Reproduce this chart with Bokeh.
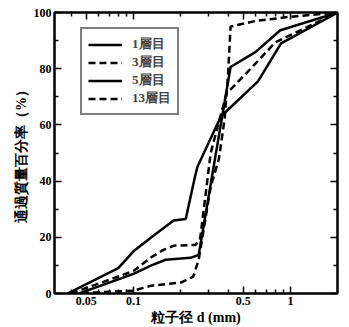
from bokeh.plotting import figure
from bokeh.models import (LogAxis, LinearAxis, FixedTicker, Legend, LegendItem,
                          Range1d, CustomJSTickFormatter)
from bokeh.embed import file_html
from bokeh.resources import INLINE

# ---- data ----
d_1 = [0.038, 0.08, 0.1, 0.13, 0.18, 0.215, 0.245, 0.255, 0.36, 0.62, 0.87, 2.0]
p_1 = [0, 9, 15, 20, 26, 26.5, 41, 45, 63, 75.5, 89, 100]

d_3 = [0.04, 0.1, 0.128, 0.155, 0.18, 0.248, 0.265, 0.31, 0.39, 0.57, 0.8, 2.0]
p_3 = [0, 8, 12.7, 15.5, 17, 17.3, 19, 50, 71, 80.6, 89.4, 100]

d_5 = [0.045, 0.1, 0.13, 0.16, 0.23, 0.26, 0.415, 0.6, 0.86, 2.0]
p_5 = [0, 7, 10, 12, 12.7, 13.7, 80.6, 86, 93.7, 100]

d_13 = [0.04, 0.1, 0.13, 0.2, 0.24, 0.26, 0.31, 0.35, 0.38, 0.4, 0.415, 0.6, 1.0, 2.0]
p_13 = [0, 1, 2.8, 3.9, 6, 12, 38, 48, 62, 78, 95, 97, 98.5, 100]

labels = ["1層目", "3層目", "5層目", "13層目"]
x_major = [0.05, 0.1, 0.5, 1]
x_minor = [0.04, 0.06, 0.07, 0.08, 0.09, 0.2, 0.3, 0.4, 0.6, 0.7, 0.8, 0.9]
y_major = [0, 20, 40, 60, 80, 100]
y_minor = [10, 30, 50, 70, 90]

SERIF = "Liberation Serif"

p = figure(width=349, height=327, x_axis_type="log",
           x_range=Range1d(0.0314, 1.99), y_range=Range1d(0, 100),
           output_backend="svg", toolbar_location=None,
           min_border_left=54, min_border_right=12,
           min_border_top=12, min_border_bottom=31,
           x_axis_label="粒子径 d (mm)", y_axis_label="通過質量百分率（%）")
p.grid.visible = False
p.outline_line_color = "black"
p.outline_line_width = 2
p.background_fill_color = "white"
p.border_fill_color = "white"

xt = FixedTicker(ticks=x_major, minor_ticks=x_minor)
yt = FixedTicker(ticks=y_major, minor_ticks=y_minor)

def style(ax):
    ax.axis_line_width = 2
    ax.major_tick_in = 7
    ax.major_tick_out = 0
    ax.minor_tick_in = 4
    ax.minor_tick_out = 0
    ax.major_tick_line_width = 1.5
    ax.minor_tick_line_width = 1.5
    ax.major_label_text_font = SERIF
    ax.major_label_text_font_style = "bold"
    ax.major_label_text_font_size = "12px"
    ax.major_label_text_color = "black"
    ax.major_label_standoff = 3
    ax.axis_label_text_font = SERIF
    ax.axis_label_text_font_style = "bold"
    ax.axis_label_text_font_size = "14px"
    ax.axis_label_text_color = "black"
    ax.axis_label_standoff = 2

xa = p.xaxis[0]
xa.ticker = xt
xa.formatter = CustomJSTickFormatter(code="return tick.toString()")
style(xa)
ya = p.yaxis[0]
ya.ticker = yt
style(ya)

blank = CustomJSTickFormatter(code="return ''")
top = LogAxis(ticker=xt, formatter=blank)
style(top)
top.major_label_standoff = 0
right = LinearAxis(ticker=yt, formatter=blank)
style(right)
right.major_label_standoff = 0
p.add_layout(top, "above")
p.add_layout(right, "right")

kw = dict(color="black", line_width=2.5)
r1 = p.line(d_1, p_1, **kw)
r3 = p.line(d_3, p_3, line_dash="7 4", **kw)
r5 = p.line(d_5, p_5, **kw)
r13 = p.line(d_13, p_13, line_dash="7 4", **kw)

legend = Legend(items=[LegendItem(label=l, renderers=[r]) for l, r in
                       zip(labels, [r1, r3, r5, r13])],
                location=(26, 178), glyph_width=34, glyph_height=13,
                label_standoff=10, spacing=-4, padding=6, margin=0,
                label_text_font=SERIF, label_text_font_style="bold",
                label_text_font_size="13px", label_height=13,
                label_text_line_height=1.0,
                border_line_color="black", border_line_width=2.5,
                background_fill_alpha=1.0)
p.add_layout(legend, "center")

open("out.html", "w").write(file_html(p, INLINE))
